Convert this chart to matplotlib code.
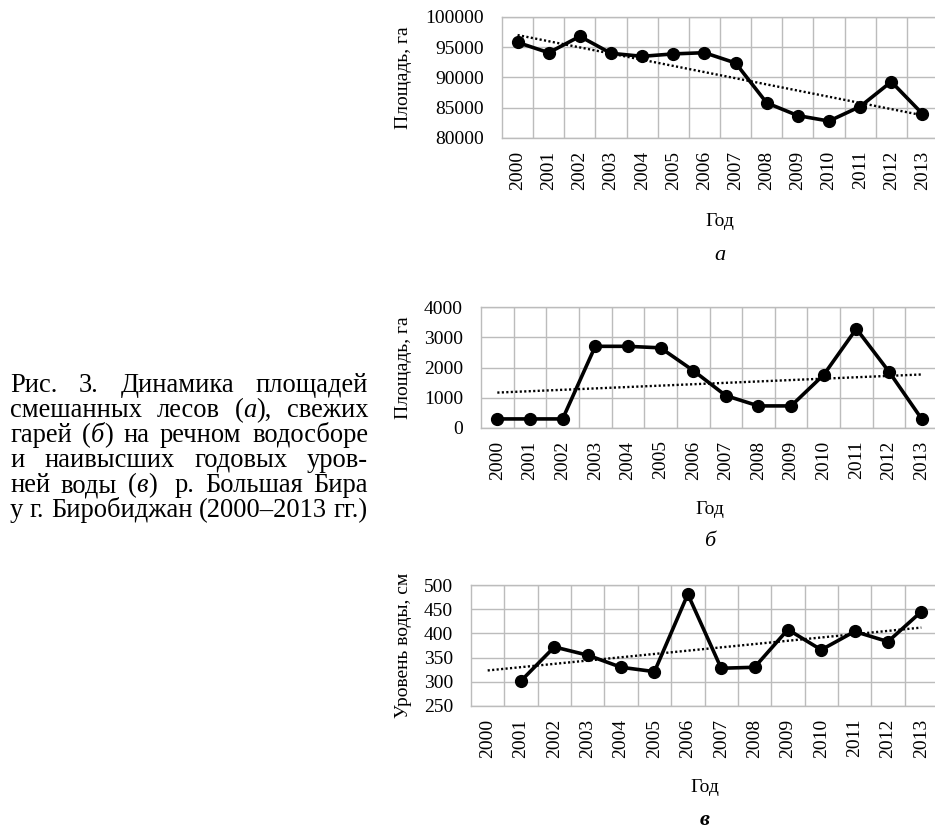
import matplotlib
matplotlib.use("Agg")
import matplotlib.pyplot as plt
import numpy as np
from matplotlib.font_manager import FontProperties

# ---------------- data ----------------
years = [str(y) for y in range(2000, 2014)]
forest_area = [95800, 94100, 96800, 94000, 93500, 93900, 94100, 92400,
               85800, 83700, 82800, 85200, 89300, 84000]
burn_area = [300, 300, 300, 2700, 2700, 2650, 1900, 1070,
             730, 730, 1760, 3280, 1860, 300]
water_level = [np.nan, 302, 372, 355, 330, 321, 481, 328,
               330, 408, 366, 404, 383, 445]

ylabels = ["Площадь, га", "Площадь, га", "Уровень воды, см"]
xlabel = "Год"
panel_letters = ["а", "б", "в"]
ylims = [(80000, 100000), (0, 4000), (250, 500)]
ysteps = [5000, 1000, 50]

caption_lines = [
    "Рис. 3. Динамика площадей",
    "смешанных лесов (*а*), свежих",
    "гарей (*б*) на речном водосборе",
    "и наивысших годовых уров-",
    "ней воды (*в*)  р. Большая Бира",
    "у г. Биробиджан (2000–2013 гг.)",
]

# ---------------- layout ----------------
W, H = 935, 832
fig = plt.figure(figsize=(W / 100, H / 100), dpi=100)
SERIF = "Liberation Serif"
FS = 14

# pixel boxes: left, top, bottom ; right edge common
boxes = [(502, 17, 138), (481, 307, 428), (471, 585, 706)]
RIGHT = 938
label_y = [(222, 256), (509, 541), (787, 820)]
YLAB_X = 404
GRID = "#bcbcbc"

series = [forest_area, burn_area, water_level]

for i, (vals, (l, t, b)) in enumerate(zip(series, boxes)):
    ax = fig.add_axes([l / W, 1 - b / H, (RIGHT - l) / W, (b - t) / H])
    x = np.arange(len(years))
    y = np.array(vals, dtype=float)
    ok = ~np.isnan(y)
    coef = np.polyfit(x[ok], y[ok], 1)
    ax.plot(x, np.polyval(coef, x), color="black", lw=1.7,
            linestyle=(0, (0.9, 1.0)), zorder=3)
    ax.plot(x, y, color="black", lw=2.6, marker="o", ms=8.5, zorder=4)
    ax.set_xlim(-0.5, len(years) - 0.5)
    ax.set_ylim(*ylims[i])
    ax.set_yticks(np.arange(ylims[i][0], ylims[i][1] + 1, ysteps[i]))
    ax.set_xticks(x)
    ax.set_xticklabels(years, rotation=90, fontfamily=SERIF, fontsize=FS)
    ax.set_xticks(np.arange(0.5, len(years) - 0.5, 1), minor=True)
    for lab in ax.get_yticklabels():
        lab.set_fontfamily(SERIF)
        lab.set_fontsize(FS)
    ax.tick_params(axis="both", which="both", length=0)
    ax.tick_params(axis="y", pad=13)
    ax.tick_params(axis="x", pad=9)
    ax.grid(True, axis="y", which="major", color=GRID, lw=1.0)
    ax.grid(True, axis="x", which="minor", color=GRID, lw=1.0)
    ax.set_axisbelow(True)
    for sp in ax.spines.values():
        sp.set_color(GRID)
        sp.set_linewidth(1.0)
    cx = (l + RIGHT) / 2 / W
    cy_ax = 1 - (t + b) / 2 / H
    fig.text(YLAB_X / W, cy_ax, ylabels[i], rotation=90, ha="center",
             va="center", fontfamily=SERIF, fontsize=FS)
    fig.text(cx, 1 - label_y[i][0] / H, xlabel, ha="center", va="center",
             fontfamily=SERIF, fontsize=FS)
    fig.text(cx, 1 - label_y[i][1] / H, panel_letters[i], ha="center",
             va="center", fontfamily=SERIF, fontsize=FS + 2, style="italic",
             weight="bold" if i == 2 else "normal")

# ---------------- justified caption ----------------
CAP_L, CAP_R = 10, 368
CAP_BASE0, CAP_STEP = 392, 25
renderer = fig.canvas.get_renderer()


def seg_width(s, fp):
    w, h, d = renderer.get_text_width_height_descent(s, fp, ismath=False)
    return w


def parse_word(word, fpn, fpi):
    parts = word.split("*")
    segs = []
    for k, p in enumerate(parts):
        if p:
            segs.append((p, fpi if k % 2 == 1 else fpn))
    return segs


# choose caption size so that the (unjustified) last line fills the column
probe = FontProperties(family=SERIF, size=10)
nat = seg_width(caption_lines[-1], probe)
CFS = 10 * (CAP_R - CAP_L) / nat
fp_n = FontProperties(family=SERIF, size=CFS)
fp_i = FontProperties(family=SERIF, size=CFS, style="italic")
space_w = seg_width("a a", fp_n) - seg_width("aa", fp_n)

for li, line in enumerate(caption_lines):
    raw = line.split(" ")
    words, extra = [], []
    for token in raw:
        if token == "":
            if extra:
                extra[-1] += 1
            continue
        words.append(parse_word(token, fp_n, fp_i))
        extra.append(0)
    widths = [sum(seg_width(s, f) for s, f in wd) for wd in words]
    total_extra = sum(extra[:-1]) * space_w
    gap = (CAP_R - CAP_L - sum(widths) - total_extra) / max(len(words) - 1, 1)
    xpos = CAP_L
    ypix = CAP_BASE0 + li * CAP_STEP
    for wi, wd in enumerate(words):
        xx = xpos
        for s, f in wd:
            fig.text(xx / W, 1 - ypix / H, s, fontproperties=f,
                     ha="left", va="baseline")
            xx += seg_width(s, f)
        xpos += widths[wi] + gap + extra[wi] * space_w

fig.savefig("out.png", dpi=100)
